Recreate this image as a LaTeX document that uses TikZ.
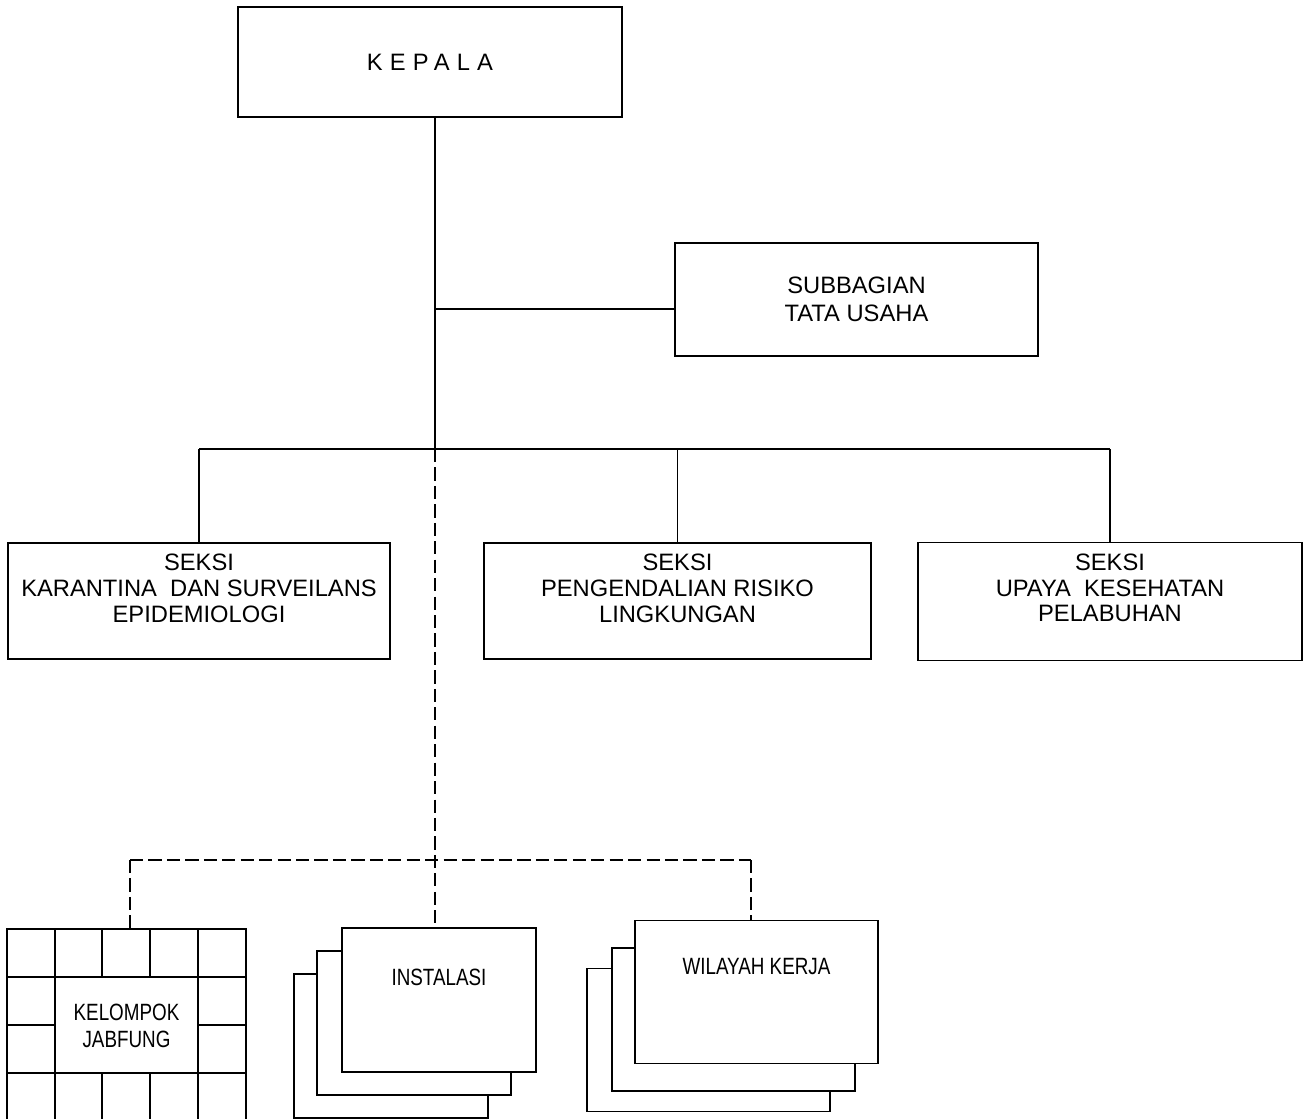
\documentclass[tikz,border=0pt]{standalone}
\usepackage{fontspec}
\setmainfont{Liberation Sans}
\newfontfamily\narrowsans[FakeStretch=0.8]{Liberation Sans}
\usetikzlibrary{positioning}

\tikzset{
  unit/.style={draw, line width=1.1pt, fill=white, inner sep=0pt},
  toptext/.style={anchor=north, align=center, font=\fontsize{13.5}{14.7}\selectfont},
  narrowtext/.style={align=center, font=\narrowsans\fontsize{13.4}{15.3}\selectfont},
  link/.style={line width=1.1pt},
  dashlink/.style={line width=1.1pt, dash pattern=on 7.5pt off 3pt},
}

\begin{document}
\begin{tikzpicture}[x=0.02cm, y=-0.02cm]
  \useasboundingbox (0,0) rectangle (1303,1119);

  % Kepala
  \node[unit, minimum width=7.7cm, minimum height=2.2cm,
        font=\fontsize{13.5}{15}\selectfont\addfontfeatures{LetterSpace=30}]
        (kepala) at (430,62) {KEPALA};

  % Subbagian
  \node[unit, minimum width=7.26cm, minimum height=2.26cm, align=center,
        font=\fontsize{13.5}{15.9}\selectfont] (tu) at (856.5,299.5) {SUBBAGIAN\\TATA USAHA};

  % Seksi
  \node[unit, minimum width=7.66cm, minimum height=2.32cm,
        label={[toptext, yshift=-0.12cm]north:{SEKSI\\KARANTINA~ DAN SURVEILANS\\EPIDEMIOLOGI}}]
        (krt) at (199,601) {};
  \node[unit, minimum width=7.74cm, minimum height=2.32cm,
        label={[toptext, yshift=-0.12cm]north:{SEKSI\\PENGENDALIAN RISIKO\\LINGKUNGAN}}]
        (pr) at (677.5,601) {};
  \node[unit, minimum width=7.68cm, minimum height=2.36cm,
        label={[toptext, yshift=-0.12cm]north:{SEKSI\\UPAYA~ KESEHATAN\\PELABUHAN}}]
        (pel) at (1110,601.5) {};

  % Garis komando
  \coordinate (spine) at (435,449);
  \draw[link] (kepala.south -| spine) -- (spine);
  \draw[link] ([yshift=-0.19cm]tu.west -| spine) -- ([yshift=-0.19cm]tu.west);
  \draw[link] (krt.north |- spine) -- (pel.north |- spine);
  \foreach \n in {krt,pr,pel}
    \draw[link] (\n.north |- spine) -- (\n.north);

  % Jabfung
  \node[unit, minimum width=4.78cm, minimum height=3.86cm, narrowtext]
        (jab) at (126.5,1025.5) {KELOMPOK\\JABFUNG};
  \draw[link] (7,977) -- (246,977) (7,1073) -- (246,1073)
              (55,929) -- (55,1122) (198,929) -- (198,1122)
              (7,1025) -- (55,1025) (198,1025) -- (246,1025);
  \foreach \x in {102,150}
    \draw[link] (\x,929) -- (\x,977) (\x,1073) -- (\x,1122);

  % Instalasi
  \foreach \k/\x/\y in {2/391/1046,1/414/1023}
    \node[unit, minimum width=3.88cm, minimum height=2.88cm] (inst\k) at (\x,\y) {};
  \node[unit, minimum width=3.88cm, minimum height=2.88cm,
        label={[toptext, narrowtext, anchor=north, yshift=-0.72cm]north:INSTALASI}]
        (inst) at (439,1000) {};

  % Wilayah kerja
  \foreach \k/\x/\y in {2/708.5/1040,1/733.5/1019.5}
    \node[unit, minimum width=4.86cm, minimum height=2.86cm] (wk\k) at (\x,\y) {};
  \node[unit, minimum width=4.86cm, minimum height=2.86cm,
        label={[toptext, narrowtext, anchor=north, yshift=-0.66cm]north:WILAYAH KERJA}]
        (wk) at (756.5,992) {};

  % Garis koordinasi
  \coordinate (dleft) at (130,860);
  \coordinate (dright) at (751,860);
  \draw[dashlink] (spine) -- (spine |- inst.north);
  \draw[dashlink] (dleft) -- (dright);
  \draw[dashlink] (dleft) -- (dleft |- jab.north);
  \draw[dashlink] (dright) -- (dright |- wk.north);
\end{tikzpicture}
\end{document}
